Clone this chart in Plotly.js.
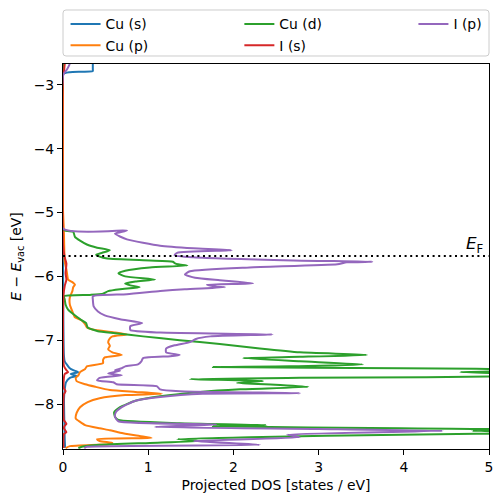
<!DOCTYPE html>
<html><head><meta charset="utf-8">
<script src="https://cdn.plot.ly/plotly-3.0.1.min.js"></script>
<style>html,body{margin:0;padding:0;background:#fff}#chart{width:503px;height:502px}</style>
</head><body><div id="chart"></div>
<script>
const fermiLevel = -5.68;
const xTicks = [0, 1, 2, 3, 4, 5];
const yTicks = [-8, -7, -6, -5, -4, -3];

const cuS_E = [-2.67, -2.75, -2.78, -2.80, -2.83, -4.0, -5.5, -6.5, -7.22, -7.33, -7.39, -7.44, -7.47, -7.50, -7.53, -7.56, -7.59, -7.66, -7.77, -7.92, -8.23, -8.55, -8.69];
const cuS_dos = [0.35, 0.35, 0.35, 0.08, 0.0, 0.0, 0.0, 0.003, 0.01, 0.02, 0.05, 0.08, 0.12, 0.18, 0.09, 0.16, 0.08, 0.035, 0.02, 0.012, 0.015, 0.02, 0.025];

const cuP_E = [-2.67, -4.95, -5.27, -5.58, -5.77, -5.89, -5.98, -6.05, -6.09, -6.13,
  -6.17, -6.23, -6.33, -6.44, -6.55, -6.64, -6.69, -6.75, -6.80, -6.84,
  -6.88, -6.91, -6.94, -6.97, -7.03, -7.09, -7.14, -7.19, -7.23, -7.27,
  -7.31, -7.36, -7.41, -7.45, -7.50, -7.55, -7.59, -7.64, -7.69, -7.73,
  -7.78, -7.81, -7.84, -7.86, -7.91, -7.97, -8.05, -8.14, -8.23, -8.28,
  -8.33, -8.38, -8.41, -8.45, -8.50, -8.53, -8.55, -8.58, -8.61, -8.63,
  -8.66, -8.69];
const cuP_dos = [0, 0, 0.01, 0.015, 0.02, 0.04, 0.05, 0.06, 0.11, 0.14,
  0.12, 0.11, 0.08, 0.08, 0.11, 0.14, 0.22, 0.26, 0.28, 0.38,
  0.61, 0.75, 0.58, 0.55, 0.53, 0.55, 0.53, 0.58, 0.69, 0.49,
  0.47, 0.47, 0.28, 0.26, 0.20, 0.18, 0.15, 0.16, 0.26, 0.38,
  0.55, 0.85, 1.16, 0.73, 0.43, 0.29, 0.20, 0.16, 0.15, 0.20,
  0.26, 0.43, 0.55, 0.67, 0.90, 1.04, 0.40, 0.43, 0.58, 0.53,
  0.08, 0.03];

const cuD_E = [-2.67, -5.27, -5.30, -5.38, -5.44, -5.50, -5.55, -5.59, -5.63, -5.66,
  -5.69, -5.72, -5.75, -5.77, -5.79, -5.81, -5.83, -5.86, -5.91, -5.95,
  -6.00, -6.05, -6.08, -6.11, -6.14, -6.17, -6.20, -6.23, -6.27, -6.29,
  -6.31, -6.36, -6.44, -6.52, -6.59, -6.67, -6.73, -6.80, -6.86, -6.89,
  -6.94, -7.00, -7.06, -7.13, -7.19, -7.23, -7.26, -7.28, -7.33, -7.38,
  -7.41, -7.42, -7.44, -7.46, -7.48, -7.50, -7.53, -7.56, -7.59, -7.61,
  -7.64, -7.67, -7.70, -7.73, -7.77, -7.81, -7.88, -7.95, -8.05, -8.13,
  -8.20, -8.25, -8.30, -8.33, -8.35, -8.38, -8.40, -8.42, -8.45, -8.48,
  -8.52, -8.55, -8.58, -8.61, -8.64, -8.67, -8.69];
const cuD_dos = [0, 0, 0.12, 0.14, 0.20, 0.28, 0.40, 0.55, 0.46, 0.39,
  0.43, 0.52, 1.02, 1.29, 1.31, 1.35, 1.46, 1.02, 0.73, 0.65,
  0.73, 1.08, 0.85, 0.73, 0.79, 0.90, 0.67, 0.53, 0.47, 0.32,
  0.01, 0.02, 0.03, 0.06, 0.12, 0.20, 0.27, 0.29, 0.41, 0.61,
  0.94, 1.37, 1.84, 2.31, 2.78, 3.57, 2.78, 2.11, 2.78, 3.52,
  2.66, 1.76, 3.96, 5.8, 5.4, 4.66, 5.4, 5.8, 2.78, 1.49,
  2.35, 2.04, 2.55, 2.88, 2.08, 1.61, 1.14, 0.85, 0.67, 0.60,
  0.61, 0.65, 1.37, 2.39, 1.76, 3.96, 5.8, 4.8, 5.8, 3.96,
  2.19, 1.34, 1.61, 1.02, 0.43, 0.22, 0.18];

const iS_E = [-2.67, -2.80, -2.85, -5.50, -5.70, -5.80, -5.95, -6.05, -6.15, -6.30,
  -7.40, -7.47, -7.50, -7.53, -7.60, -7.75, -7.80, -7.85, -8.25, -8.31,
  -8.34, -8.38, -8.44, -8.47, -8.55, -8.69];
const iS_dos = [0.02, 0.01, 0, 0, 0.02, 0.04, 0.03, 0.04, 0.02, 0.005,
  0.01, 0.04, 0.06, 0.02, 0.01, 0.01, 0.03, 0.01, 0.01, 0.04,
  0.02, 0.01, 0.04, 0.01, 0.005, 0.005];

const iP_E = [-2.67, -2.75, -2.82, -2.86, -5.25, -5.28, -5.33, -5.42, -5.52, -5.56,
  -5.59, -5.63, -5.67, -5.70, -5.75, -5.77, -5.78, -5.81, -5.86, -5.92,
  -5.97, -6.02, -6.06, -6.11, -6.13, -6.16, -6.17, -6.20, -6.23, -6.28,
  -6.31, -6.36, -6.47, -6.55, -6.61, -6.67, -6.73, -6.78, -6.84, -6.88,
  -6.91, -6.94, -6.98, -7.03, -7.08, -7.13, -7.19, -7.23, -7.25, -7.28,
  -7.33, -7.38, -7.41, -7.44, -7.47, -7.48, -7.52, -7.55, -7.59, -7.63,
  -7.66, -7.69, -7.72, -7.77, -7.80, -7.83, -7.84, -7.89, -7.95, -8.05,
  -8.13, -8.20, -8.27, -8.32, -8.36, -8.39, -8.42, -8.48, -8.52, -8.58,
  -8.64, -8.67, -8.69];
const iP_dos = [0.08, 0.05, 0.01, 0, 0, 0.75, 0.61, 0.75, 1.14, 1.53,
  1.98, 1.34, 1.31, 1.53, 2.70, 3.63, 3.33, 3.22, 2.19, 1.49,
  1.43, 1.55, 1.84, 2.23, 1.69, 1.81, 1.90, 1.43, 1.14, 0.75,
  0.35, 0.35, 0.36, 0.41, 0.49, 0.67, 0.93, 0.79, 0.79, 1.14,
  2.46, 1.73, 1.56, 1.49, 1.31, 1.21, 1.21, 1.37, 1.26, 0.94,
  0.92, 0.88, 0.73, 0.69, 0.61, 0.67, 0.53, 0.69, 0.43, 0.40,
  0.59, 0.63, 1.10, 1.14, 1.37, 2.78, 1.64, 1.14, 0.85, 0.69,
  0.62, 0.61, 0.65, 1.8, 1.08, 3.0, 4.46, 2.63, 2.78, 1.53,
  2.31, 0.28, 0.25];

const seriesNames = ['Cu (s)', 'Cu (p)', 'Cu (d)', 'I (s)', 'I (p)'];
const seriesE = [cuS_E, cuP_E, cuD_E, iS_E, iP_E];
const seriesDos = [cuS_dos, cuP_dos, cuD_dos, iS_dos, iP_dos];
const colors = ['#1f77b4', '#ff7f0e', '#2ca02c', '#d62728', '#9467bd'];
const legendIds = ['legend', 'legend', 'legend2', 'legend2', 'legend3'];

const FONT = 'DejaVu Sans, sans-serif';
const FS = 13.9;

const traces = seriesNames.map((name, i) => ({
  type: 'scatter', mode: 'lines', name: name,
  x: seriesDos[i], y: seriesE[i],
  line: {color: colors[i], width: 2, shape: 'spline', smoothing: 0.5},
  legend: legendIds[i],
  hoverinfo: 'skip'
}));

function legendAt(xp) {
  return {
    x: xp, xref: 'paper', xanchor: 'left',
    y: 0.983, yref: 'container', yanchor: 'top',
    bgcolor: 'rgba(0,0,0,0)', borderwidth: 0,
    font: {family: FONT, size: FS, color: '#000'},
    orientation: 'v', traceorder: 'normal'
  };
}

// rounded legend frame (paper coordinates)
const bx0 = 0, bx1 = 1, by0 = 1.0208, by1 = 1.1403, rx = 0.007, ry = 0.0078;
const framePath = `M ${bx0+rx},${by1} L ${bx1-rx},${by1} Q ${bx1},${by1} ${bx1},${by1-ry} L ${bx1},${by0+ry} Q ${bx1},${by0} ${bx1-rx},${by0} L ${bx0+rx},${by0} Q ${bx0},${by0} ${bx0},${by0+ry} L ${bx0},${by1-ry} Q ${bx0},${by1} ${bx0+rx},${by1} Z`;

const layout = {
  width: 503, height: 502,
  margin: {l: 63, r: 14, t: 64, b: 53, autoexpand: false},
  paper_bgcolor: '#fff', plot_bgcolor: '#fff',
  font: {family: FONT, size: FS, color: '#000'},
  showlegend: true,
  legend: legendAt(0.006),
  legend2: legendAt(0.414),
  legend3: legendAt(0.8226),
  xaxis: {
    range: [0, 5], tickvals: xTicks, ticks: 'outside', ticklen: 5, tickwidth: 1, tickcolor: '#000',
    showline: true, linecolor: '#000', linewidth: 1, mirror: true,
    showgrid: false, zeroline: false,
    tickfont: {family: FONT, size: FS, color: '#000'},
    title: {text: 'Projected DOS [states / eV]', font: {family: FONT, size: FS, color: '#000'}, standoff: 6}
  },
  yaxis: {
    range: [-8.705, -2.671], tickvals: yTicks, ticks: 'outside', ticklen: 5, tickwidth: 1, tickcolor: '#000',
    showline: true, linecolor: '#000', linewidth: 1, mirror: true,
    showgrid: false, zeroline: false,
    tickfont: {family: FONT, size: FS, color: '#000'},
    title: {text: '<i>E</i> − <i>E</i><sub>vac</sub> [eV]', font: {family: FONT, size: FS, color: '#000'}, standoff: 8}
  },
  shapes: [
    {type: 'line', xref: 'x', yref: 'y', x0: 0, x1: 5, y0: fermiLevel, y1: fermiLevel,
     line: {color: '#000', width: 2, dash: '2px,3.6px'}, layer: 'above'},
    {type: 'path', xref: 'paper', yref: 'paper', path: framePath,
     line: {color: '#cccccc', width: 1}, fillcolor: 'rgba(255,255,255,0.8)', layer: 'below'}
  ],
  annotations: [
    {x: 4.96, y: fermiLevel, xref: 'x', yref: 'y', xanchor: 'right', yanchor: 'bottom',
     text: '<i>E</i><sub>F</sub>', showarrow: false, yshift: -2,
     font: {family: FONT, size: 16.7, color: '#000'}}
  ]
};

Plotly.newPlot('chart', traces, layout, {displayModeBar: false, staticPlot: true});
</script>
</body></html>
